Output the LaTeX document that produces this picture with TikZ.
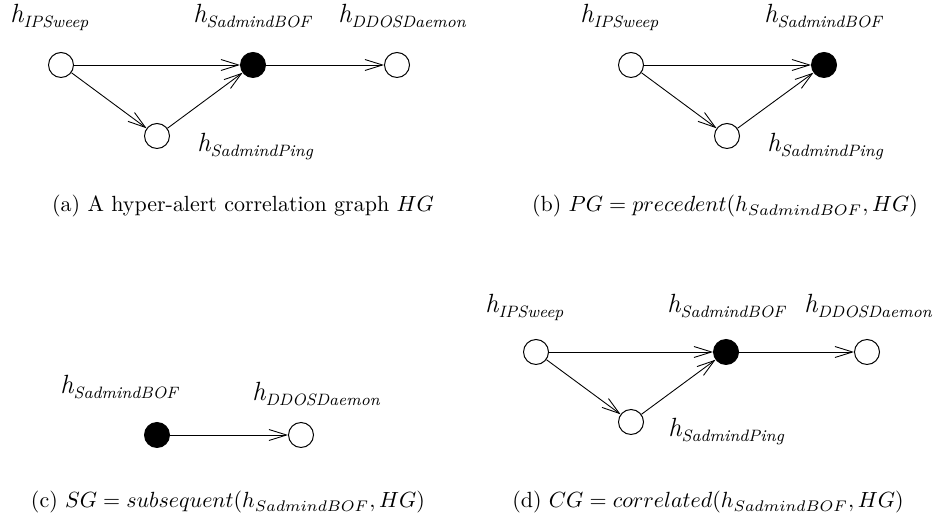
\documentclass[tikz,border=0pt]{standalone}
\usepackage{fontspec}
\usetikzlibrary{arrows.meta,positioning,calc}

% subscript of a hyper-alert name, set a little lower and smaller
\newcommand{\hsub}[1]{\raisebox{-2pt}{\fontsize{7.5}{7.5}\selectfont #1}}

\begin{document}
\begin{tikzpicture}[x=0.016cm,y=-0.016cm]
  \tikzset{
    alert/.style={circle,draw=black,fill=white,line width=0.45pt,minimum size=0.4cm,inner sep=0pt},
    target/.style={alert,fill=black},
    hlabel/.style={anchor=base west,inner sep=0pt,font=\fontsize{12}{12}\selectfont\itshape},
    edge/.style={-{Straight Barb[length=8pt,width=5pt]},line width=0.4pt},
    caption/.style={anchor=base,inner sep=0pt},
  }
  \useasboundingbox (0,0) rectangle (940,521);

  % (a) correlation graph HG
  \node[alert]  (a-ip)   at (61,65)  {};
  \node[target] (a-bof)  at (253,65) {};
  \node[alert]  (a-ddos) at (397,65) {};
  \node[alert]  (a-ping) at (157,136) {};
  \node[hlabel] (a-ipL)   at ($(a-ip)+(-51,-42)$)   {h\hsub{IPSweep}};
  \node[hlabel] (a-bofL)  at ($(a-bof)+(-60,-42)$)  {h\hsub{SadmindBOF}};
  \node[hlabel] (a-ddosL) at ($(a-ddos)+(-59,-42)$) {h\hsub{DDOSDaemon}};
  \node[hlabel] (a-pingL) at ($(a-ping)+(40,16)$)   {h\hsub{SadmindPing}};
  \draw[edge] (a-ip) -- (a-bof);
  \draw[edge] (a-ip) -- (a-ping);
  \draw[edge] (a-ping) -- (a-bof);
  \draw[edge] (a-bof) -- (a-ddos);
  \node[caption] (a-cap) at (243,212) {(a) A hyper-alert correlation graph $HG$};

  % (b) precedent graph
  \node[alert]  (b-ip)   at (631,65)  {};
  \node[target] (b-bof)  at (824,65)  {};
  \node[alert]  (b-ping) at (727,136) {};
  \node[hlabel] (b-ipL)   at ($(b-ip)+(-51,-42)$)  {h\hsub{IPSweep}};
  \node[hlabel] (b-bofL)  at ($(b-bof)+(-60,-42)$) {h\hsub{SadmindBOF}};
  \node[hlabel] (b-pingL) at ($(b-ping)+(40,16)$)  {h\hsub{SadmindPing}};
  \draw[edge] (b-ip) -- (b-bof);
  \draw[edge] (b-ip) -- (b-ping);
  \draw[edge] (b-ping) -- (b-bof);
  \node[caption] (b-cap) at (725,212) {(b) $PG = precedent(h_{SadmindBOF}, HG)$};

  % (c) subsequent graph
  \node[target] (c-bof)  at (157,435) {};
  \node[alert]  (c-ddos) at (301,435) {};
  \node[hlabel] (c-bofL)  at ($(c-bof)+(-97,-41)$)  {h\hsub{SadmindBOF}};
  \node[hlabel] (c-ddosL) at ($(c-ddos)+(-49,-34)$) {h\hsub{DDOSDaemon}};
  \draw[edge] (c-bof) -- (c-ddos);
  \node[caption] (c-cap) at (228,508) {(c) $SG = subsequent(h_{SadmindBOF}, HG)$};

  % (d) correlated graph
  \node[alert]  (d-ip)   at (536,352) {};
  \node[target] (d-bof)  at (726,352) {};
  \node[alert]  (d-ddos) at (867,352) {};
  \node[alert]  (d-ping) at (631,422) {};
  \node[hlabel] (d-ipL)   at ($(d-ip)+(-51,-39)$)   {h\hsub{IPSweep}};
  \node[hlabel] (d-bofL)  at ($(d-bof)+(-59,-39)$)  {h\hsub{SadmindBOF}};
  \node[hlabel] (d-ddosL) at ($(d-ddos)+(-63,-39)$) {h\hsub{DDOSDaemon}};
  \node[hlabel] (d-pingL) at ($(d-ping)+(37,15)$)   {h\hsub{SadmindPing}};
  \draw[edge] (d-ip) -- (d-bof);
  \draw[edge] (d-ip) -- (d-ping);
  \draw[edge] (d-ping) -- (d-bof);
  \draw[edge] (d-bof) -- (d-ddos);
  \node[caption] (d-cap) at (708,508) {(d) $CG = correlated(h_{SadmindBOF}, HG)$};
\end{tikzpicture}
\end{document}
